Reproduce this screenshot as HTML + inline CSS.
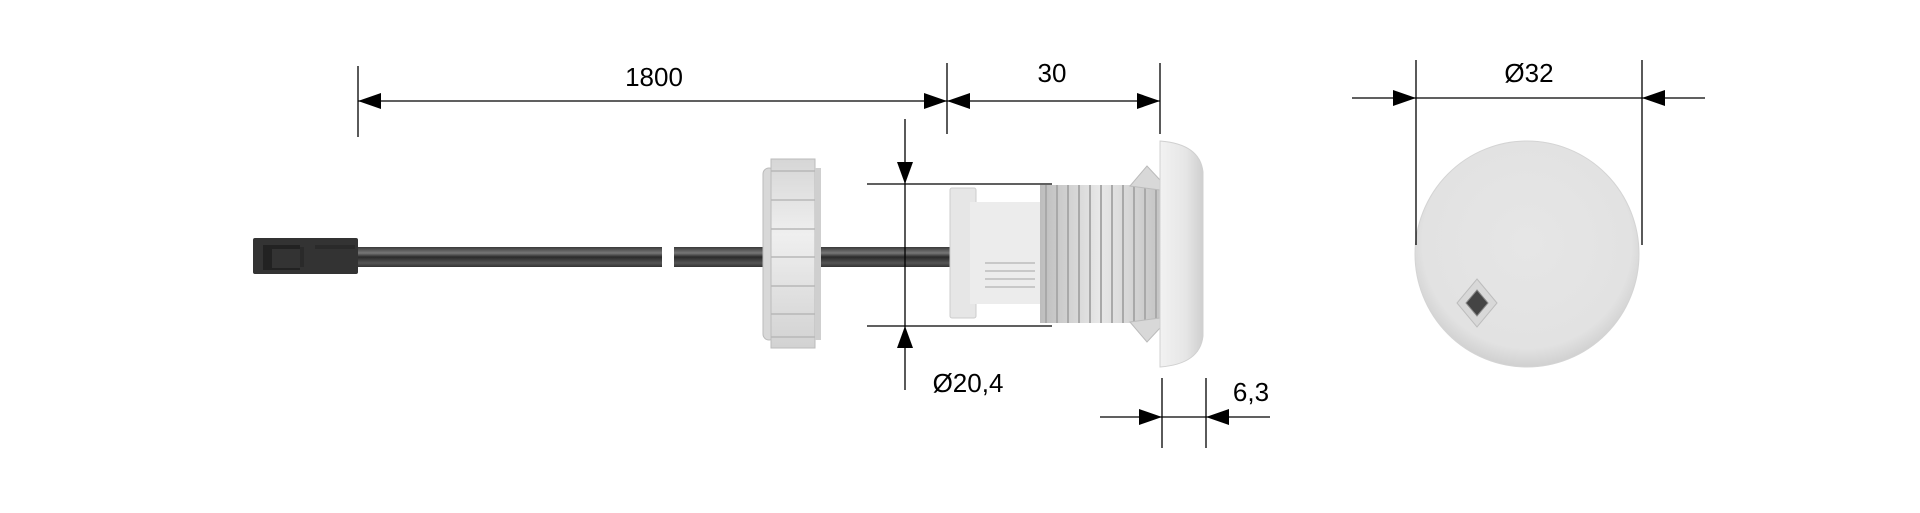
<!DOCTYPE html>
<html><head><meta charset="utf-8"><style>
html,body{margin:0;padding:0;background:#fff;}
svg{display:block}
text{font-family:"Liberation Sans",sans-serif;font-size:26px;fill:#000}
</style></head><body>
<svg width="1920" height="513" viewBox="0 0 1920 513" xmlns="http://www.w3.org/2000/svg">
<defs>
<linearGradient id="cab" x1="0" y1="0" x2="0" y2="1">
<stop offset="0" stop-color="#3a3a3a"/><stop offset="0.3" stop-color="#777"/><stop offset="0.5" stop-color="#2a2a2a"/><stop offset="0.8" stop-color="#555"/><stop offset="1" stop-color="#333"/>
</linearGradient>
<linearGradient id="wh" x1="0" y1="0" x2="0" y2="1">
<stop offset="0" stop-color="#d6d6d6"/><stop offset="0.4" stop-color="#efefef"/><stop offset="1" stop-color="#d2d2d2"/>
</linearGradient>
<linearGradient id="cap" x1="0" y1="0" x2="1" y2="0">
<stop offset="0" stop-color="#f2f2f2"/><stop offset="0.6" stop-color="#e6e6e6"/><stop offset="1" stop-color="#cfcfcf"/>
</linearGradient>
<radialGradient id="disc" cx="0.5" cy="0.45" r="0.55">
<stop offset="0" stop-color="#e6e6e6"/><stop offset="0.85" stop-color="#e2e2e2"/><stop offset="1" stop-color="#d0d0d0"/>
</radialGradient>
<linearGradient id="thr" x1="0" y1="0" x2="1" y2="0">
<stop offset="0" stop-color="#bdbdbd"/><stop offset="0.5" stop-color="#e8e8e8"/><stop offset="1" stop-color="#c4c4c4"/>
</linearGradient>
</defs>

<!-- cable -->
<rect x="356" y="247" width="306" height="20" fill="url(#cab)"/>
<rect x="674" y="247" width="280" height="20" fill="url(#cab)"/>
<!-- connector -->
<rect x="253" y="238" width="105" height="36" rx="2" fill="#333"/>
<path d="M263 245 H300 V249 H272 V268 H300 V270 H263Z" fill="#222"/>
<rect x="300" y="247" width="4" height="20" fill="#2a2a2a"/>
<rect x="315" y="245" width="40" height="4" fill="#2a2a2a"/>

<!-- nut -->
<rect x="763" y="168" width="12" height="172" rx="6" fill="#d8d8d8" stroke="#bbb" stroke-width="1"/>
<rect x="771" y="159" width="44" height="189" fill="url(#wh)" stroke="#bbb" stroke-width="1"/>
<rect x="815" y="168" width="6" height="172" fill="#cfcfcf"/>
<g stroke="#b8b8b8" stroke-width="1.5">
<line x1="771" y1="171" x2="815" y2="171"/><line x1="771" y1="200" x2="815" y2="200"/>
<line x1="771" y1="229" x2="815" y2="229"/><line x1="771" y1="257" x2="815" y2="257"/>
<line x1="771" y1="286" x2="815" y2="286"/><line x1="771" y1="314" x2="815" y2="314"/>
<line x1="771" y1="337" x2="815" y2="337"/>
</g>

<!-- body housing -->
<rect x="950" y="188" width="26" height="130" rx="2" fill="#e6e6e6" stroke="#ccc"/>
<rect x="970" y="202" width="72" height="102" fill="#ececec"/>
<g fill="#c8c8c8" font-size="6"><rect x="985" y="262" width="50" height="2"/><rect x="985" y="270" width="50" height="2"/><rect x="985" y="278" width="50" height="2"/><rect x="985" y="286" width="50" height="2"/></g>
<!-- thread -->
<rect x="1040" y="185" width="120" height="138" fill="url(#thr)"/>
<g stroke="#a9a9a9" stroke-width="2">
<line x1="1046" y1="185" x2="1046" y2="323"/><line x1="1057" y1="185" x2="1057" y2="323"/>
<line x1="1068" y1="185" x2="1068" y2="323"/><line x1="1079" y1="185" x2="1079" y2="323"/>
<line x1="1090" y1="185" x2="1090" y2="323"/><line x1="1101" y1="185" x2="1101" y2="323"/>
<line x1="1112" y1="185" x2="1112" y2="323"/><line x1="1123" y1="185" x2="1123" y2="323"/>
<line x1="1134" y1="185" x2="1134" y2="323"/><line x1="1145" y1="185" x2="1145" y2="323"/>
<line x1="1156" y1="185" x2="1156" y2="323"/>
</g>
<!-- clips -->
<path d="M1130 186 L1147 166 L1160 180 L1160 190Z" fill="#d8d8d8" stroke="#bbb"/>
<path d="M1130 322 L1147 342 L1160 328 L1160 318Z" fill="#d8d8d8" stroke="#bbb"/>
<!-- cap -->
<path d="M1160 141 Q1200 144 1203 172 L1203 336 Q1200 364 1160 367Z" fill="url(#cap)" stroke="#d0d0d0"/>

<!-- front disc -->
<ellipse cx="1527" cy="254" rx="112" ry="113" fill="url(#disc)" stroke="#d4d4d4"/>
<path d="M1477 279 L1497 303 L1477 327 L1457 303Z" fill="#d8d8d8" stroke="#bdbdbd"/>
<path d="M1477 290 L1488 303 L1477 316 L1466 303Z" fill="#444" stroke="#888"/>

<!-- dimension lines -->
<g stroke="#000" stroke-width="1.3" fill="none">
<line x1="358" y1="66" x2="358" y2="137"/>
<line x1="947" y1="63" x2="947" y2="134"/>
<line x1="1160" y1="63" x2="1160" y2="134"/>
<line x1="358" y1="101" x2="1160" y2="101"/>
<line x1="905" y1="119" x2="905" y2="390"/>
<line x1="867" y1="184" x2="1052" y2="184"/>
<line x1="867" y1="326" x2="1052" y2="326"/>
<line x1="1162" y1="378" x2="1162" y2="448"/>
<line x1="1206" y1="378" x2="1206" y2="448"/>
<line x1="1100" y1="417" x2="1270" y2="417"/>
<line x1="1416" y1="60" x2="1416" y2="245"/>
<line x1="1642" y1="60" x2="1642" y2="245"/>
<line x1="1352" y1="98" x2="1705" y2="98"/>
</g>
<g fill="#000">
<path d="M358 101 L381 93 L381 109Z"/>
<path d="M947 101 L924 93 L924 109Z"/>
<path d="M947 101 L970 93 L970 109Z"/>
<path d="M1160 101 L1137 93 L1137 109Z"/>
<path d="M905 184 L897 162 L913 162Z"/>
<path d="M905 326 L897 348 L913 348Z"/>
<path d="M1162 417 L1139 409 L1139 425Z"/>
<path d="M1206 417 L1229 409 L1229 425Z"/>
<path d="M1416 98 L1393 90 L1393 106Z"/>
<path d="M1642 98 L1665 90 L1665 106Z"/>
</g>
<text x="654" y="86" text-anchor="middle">1800</text>
<text x="1052" y="82" text-anchor="middle">30</text>
<text x="1529" y="82" text-anchor="middle">Ø32</text>
<text x="968" y="392" text-anchor="middle">Ø20,4</text>
<text x="1251" y="401" text-anchor="middle">6,3</text>
</svg>
</body></html>
